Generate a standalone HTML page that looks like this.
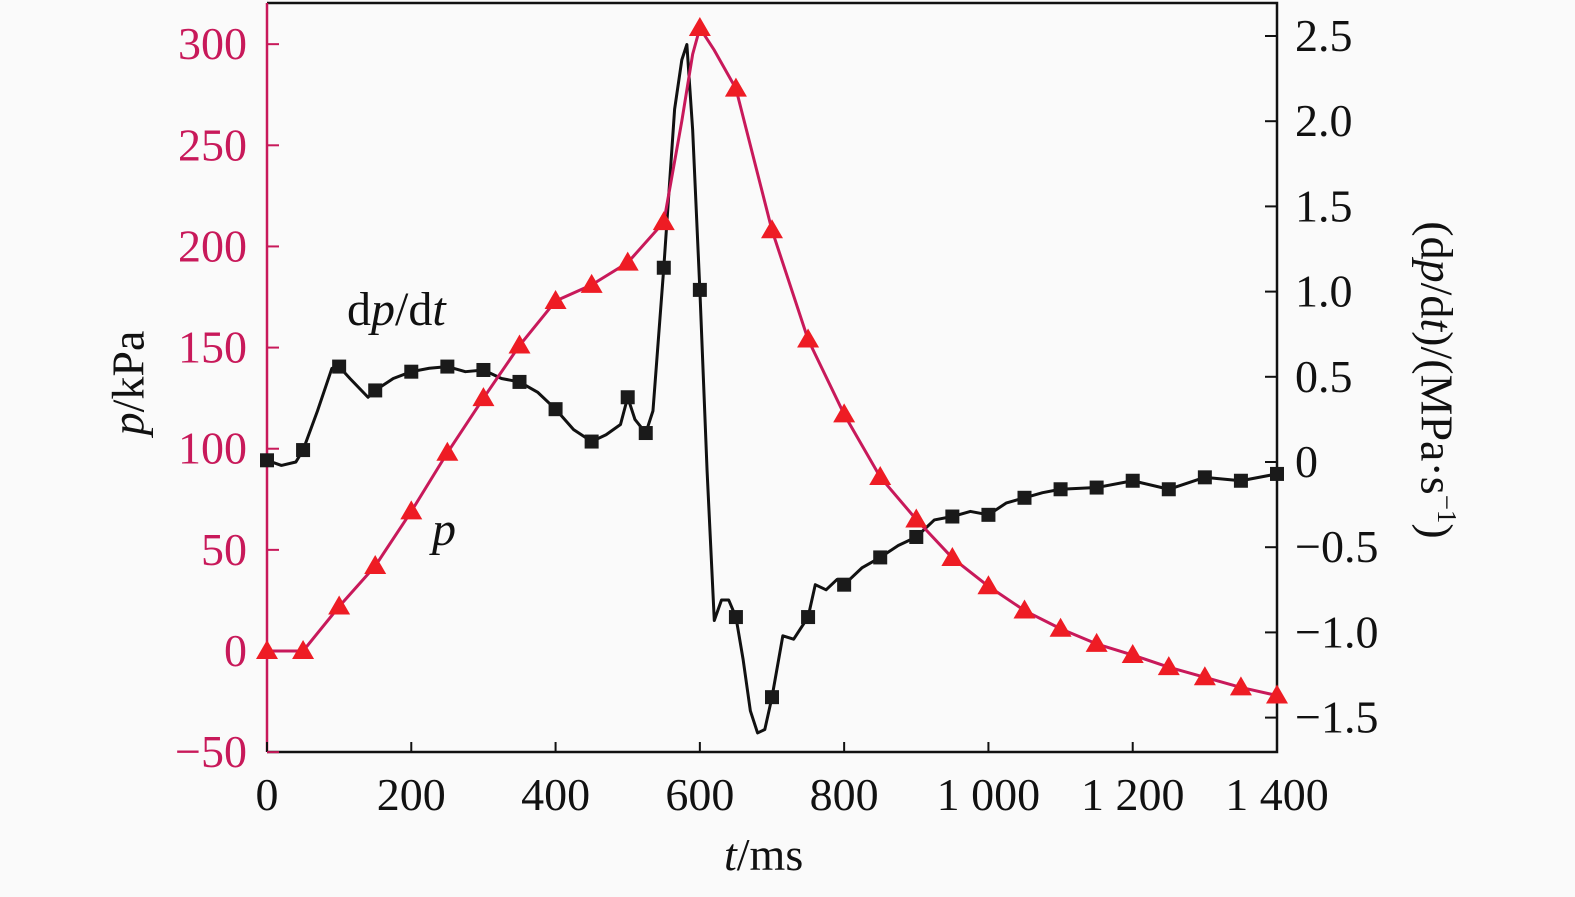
<!DOCTYPE html>
<html><head><meta charset="utf-8">
<style>
html,body{margin:0;padding:0;background:#fafafa;overflow:hidden;width:1575px;height:897px;}
svg{display:block;font-family:"Liberation Serif",serif;}
</style></head>
<body>
<svg id="chart" width="1575" height="897"></svg>
<script>
const xTicks=[0,200,400,600,800,1000,1200,1400];
const xTickLabels=["0","200","400","600","800","1 000","1 200","1 400"];
const yLeftTicks=[-50,0,50,100,150,200,250,300];
const yLeftLabels=["\u221250","0","50","100","150","200","250","300"];
const yRightTicks=[-1.5,-1.0,-0.5,0,0.5,1.0,1.5,2.0,2.5];
const yRightLabels=["\u22121.5","\u22121.0","\u22120.5","0","0.5","1.0","1.5","2.0","2.5"];
const pT=[0,50,100,150,200,250,300,350,400,450,500,550,575,590,600,620,650,700,750,800,850,900,950,1000,1050,1100,1150,1200,1250,1300,1350,1400];
const pV=[0,0,22,42,69,98,125,151,173,181,192,212,262,295,308,297,278,208,154,117,86,65,46,32,20,11,3.5,-2,-8,-13,-18,-22];
const pMarkT=[0,50,100,150,200,250,300,350,400,450,500,550,600,650,700,750,800,850,900,950,1000,1050,1100,1150,1200,1250,1300,1350,1400];
const dT=[0,20,40,50,70,90,100,115,140,150,175,200,225,250,275,300,325,350,375,400,425,450,470,490,500,510,525,535,550,565,575,582,590,600,610,620,630,640,650,660,670,680,690,700,715,730,750,760,775,790,800,825,850,875,900,925,950,975,1000,1025,1050,1075,1100,1150,1200,1250,1300,1350,1400];
const dV=[0.01,-0.02,0,0.07,0.3,0.55,0.56,0.49,0.38,0.42,0.49,0.53,0.55,0.56,0.53,0.54,0.49,0.47,0.41,0.31,0.19,0.12,0.16,0.22,0.38,0.25,0.17,0.3,1.14,2.07,2.36,2.45,1.95,1.01,-0.05,-0.93,-0.81,-0.81,-0.91,-1.16,-1.46,-1.59,-1.57,-1.38,-1.02,-1.04,-0.91,-0.72,-0.75,-0.69,-0.72,-0.62,-0.56,-0.49,-0.44,-0.34,-0.32,-0.29,-0.31,-0.24,-0.21,-0.18,-0.16,-0.15,-0.11,-0.16,-0.09,-0.11,-0.07];
const dMarkT=[0,50,100,150,200,250,300,350,400,450,500,525,550,600,650,700,750,800,850,900,950,1000,1050,1100,1150,1200,1250,1300,1350,1400];

const L=267,R=1277,T=3,B=752;
const X=t=>L+(t/1400)*(R-L);
const YL=v=>651-(v/50)*101.14;
const YR=v=>462-v*170.4;
const NS="http://www.w3.org/2000/svg";
const svg=document.getElementById('chart');
function mk(tag,attrs,parent){const e=document.createElementNS(NS,tag);for(const k in attrs)e.setAttribute(k,attrs[k]);(parent||svg).appendChild(e);return e;}
function interp(ts,vs,t){for(let i=0;i<ts.length-1;i++){if(t>=ts[i]&&t<=ts[i+1]){const f=(t-ts[i])/(ts[i+1]-ts[i]||1);return vs[i]+f*(vs[i+1]-vs[i]);}}return vs[vs.length-1];}
const crimson="#c8195a";

const fr=mk('path',{d:`M${L},${T} H${R} V${B} H${L}`,fill:'none',stroke:'#111','stroke-width':2.5});


const la=mk('line',{x1:L,y1:T,x2:L,y2:B,stroke:crimson,'stroke-width':2.5});



xTicks.forEach((t,i)=>{
  mk('line',{x1:X(t),y1:B,x2:X(t),y2:B-10,stroke:'#111','stroke-width':2});
  const tx=mk('text',{x:X(t),y:B+58,'text-anchor':'middle','font-size':46,fill:'#111'});
  tx.textContent=xTickLabels[i];
  
  
});
yLeftTicks.forEach((v,i)=>{
  mk('line',{x1:L,y1:YL(v),x2:L+12,y2:YL(v),stroke:crimson,'stroke-width':2});
  const tx=mk('text',{x:L-20,y:YL(v)+15,'text-anchor':'end','font-size':46,fill:crimson});
  tx.textContent=yLeftLabels[i];
  
  
});
yRightTicks.forEach((v,i)=>{
  mk('line',{x1:R,y1:YR(v),x2:R-12,y2:YR(v),stroke:'#111','stroke-width':2});
  const tx=mk('text',{x:R+18,y:YR(v)+15,'text-anchor':'start','font-size':46,fill:'#111'});
  tx.textContent=yRightLabels[i];
  
  
});

const dl=mk('polyline',{points:dT.map((t,i)=>X(t)+','+YR(dV[i])).join(' '),fill:'none',stroke:'#111','stroke-width':3,'stroke-linejoin':'round'});


dMarkT.forEach(t=>{
  const v=interp(dT,dV,t);
  const r=mk('rect',{x:X(t)-7,y:YR(v)-7,width:14,height:14,fill:'#1a1a1a'});
  
  
});
const pl=mk('polyline',{points:pT.map((t,i)=>X(t)+','+YL(pV[i])).join(' '),fill:'none',stroke:crimson,'stroke-width':3,'stroke-linejoin':'round'});


pMarkT.forEach(t=>{
  const v=interp(pT,pV,t);
  const x=X(t),y=YL(v);
  const m=mk('polygon',{points:`${x},${y-11} ${x-11},${y+8} ${x+11},${y+8}`,fill:'#ee1c24'});
  
  
});
</script>
<div style="position:absolute;left:0;top:0;width:1575px;height:897px;overflow:hidden;pointer-events:none;font-family:'Liberation Serif',serif;">
  <div style="position:absolute;left:724px;top:828px;font-size:46px;color:#111;"><i>t</i>/ms</div>
  <div style="position:absolute;left:128px;top:383px;font-size:46px;color:#111;transform:translate(-50%,-50%) rotate(-90deg);white-space:nowrap;"><i>p</i>/kPa</div>
  <div style="position:absolute;left:1437px;top:380px;font-size:46px;color:#111;transform:translate(-50%,-50%) rotate(90deg);white-space:nowrap;">(d<i>p</i>/d<i>t</i>)/(MPa·s<sup style="font-size:27px">−1</sup>)</div>
  <div style="position:absolute;left:347px;top:282px;font-size:48px;color:#111;">d<i>p</i>/d<i>t</i></div>
  <div style="position:absolute;left:432px;top:502px;font-size:48px;color:#111;"><i>p</i></div>
</div>
</body></html>
